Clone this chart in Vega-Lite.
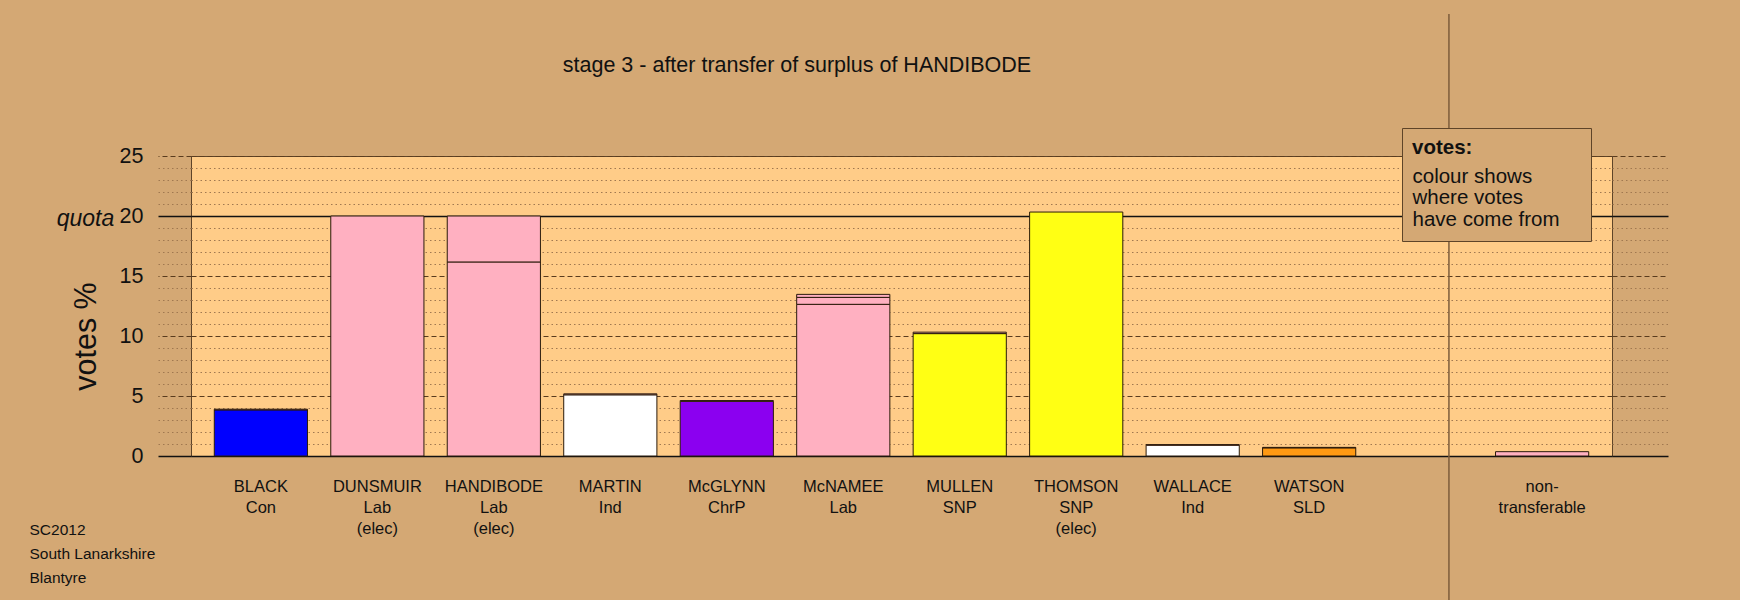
{
  "$schema": "https://vega.github.io/schema/vega-lite/v6.json",
  "width": 1421,
  "height": 300,
  "autosize": {"type": "none"},
  "padding": {"left": 191, "top": 156, "right": 128, "bottom": 144},
  "background": "#D4A874",
  "view": {"fill": "#FFCC88", "stroke": "#5e4428", "strokeWidth": 1},
  "config": {"font": "Liberation Sans"},
  "resolve": {"axis": {"x": "independent", "y": "independent"}},
  "layer": [
    {
      "data": {"values": [
        {"cand": "BLACK|Con", "source": "Con", "lo": 0, "hi": 3.84},
        {"cand": "BLACK|Con", "source": "Lab", "lo": 3.84, "hi": 3.9},
        {"cand": "DUNSMUIR|Lab|(elec)", "source": "Lab", "lo": 0, "hi": 20},
        {"cand": "HANDIBODE|Lab|(elec)", "source": "Lab", "lo": 0, "hi": 16.17},
        {"cand": "HANDIBODE|Lab|(elec)", "source": "Lab", "lo": 16.17, "hi": 20},
        {"cand": "MARTIN|Ind", "source": "Ind", "lo": 0, "hi": 5.1},
        {"cand": "MARTIN|Ind", "source": "Lab", "lo": 5.1, "hi": 5.18},
        {"cand": "McGLYNN|ChrP", "source": "ChrP", "lo": 0, "hi": 4.55},
        {"cand": "McGLYNN|ChrP", "source": "Lab", "lo": 4.55, "hi": 4.62},
        {"cand": "McNAMEE|Lab", "source": "Lab", "lo": 0, "hi": 12.64},
        {"cand": "McNAMEE|Lab", "source": "Lab", "lo": 12.64, "hi": 13.22},
        {"cand": "McNAMEE|Lab", "source": "Lab", "lo": 13.22, "hi": 13.47},
        {"cand": "MULLEN|SNP", "source": "SNP", "lo": 0, "hi": 10.2},
        {"cand": "MULLEN|SNP", "source": "Lab", "lo": 10.2, "hi": 10.32},
        {"cand": "THOMSON|SNP|(elec)", "source": "SNP", "lo": 0, "hi": 20.33},
        {"cand": "WALLACE|Ind", "source": "Ind", "lo": 0, "hi": 0.9},
        {"cand": "WALLACE|Ind", "source": "Lab", "lo": 0.9, "hi": 0.95},
        {"cand": "WATSON|SLD", "source": "SLD", "lo": 0, "hi": 0.68},
        {"cand": "WATSON|SLD", "source": "Lab", "lo": 0.68, "hi": 0.72},
        {"cand": "non-|transferable", "source": "Lab", "lo": 0, "hi": 0.36}
      ]},
      "mark": {"type": "bar", "stroke": "#2a1a0a", "strokeWidth": 1},
      "encoding": {
        "x": {
          "field": "cand", "type": "nominal", "sort": null,
          "scale": {"domain": ["BLACK|Con", "DUNSMUIR|Lab|(elec)", "HANDIBODE|Lab|(elec)", "MARTIN|Ind", "McGLYNN|ChrP", "McNAMEE|Lab", "MULLEN|SNP", "THOMSON|SNP|(elec)", "WALLACE|Ind", "WATSON|SLD", " ", "non-|transferable"], "paddingInner": 0.2, "paddingOuter": 0.2},
          "axis": {
            "orient": "bottom", "ticks": false, "domain": false, "grid": false,
            "labelPadding": 22, "labelAngle": 0,
            "labelExpr": "split(datum.label, '|')",
            "labelFontSize": 16.5, "labelLineHeight": 21, "labelColor": "#111111", "labelBaseline": "top",
            "title": ["SC2012", "South Lanarkshire", "Blantyre"],
            "titleX": -162, "titleY": 66.5, "titleAlign": "left", "titleBaseline": "top",
            "titleFontSize": 15.5, "titleLineHeight": 24, "titleFontWeight": "normal", "titleColor": "#111111"
          }
        },
        "y": {
          "field": "lo", "type": "quantitative",
          "scale": {"domain": [0, 25], "nice": false},
          "axis": {
            "orient": "left",
            "values": [0,1,2,3,4,5,6,7,8,9,10,11,12,13,14,15,16,17,18,19,20,21,22,23,24,25],
            "domain": false, "grid": true, "ticks": true, "tickSize": 33, "labelPadding": 15,
            "labelExpr": "datum.value % 5 === 0 ? datum.label : ''",
            "labelFontSize": 21.5, "labelColor": "#111111",
            "gridColor": {"condition": [{"test": "datum.value === 0 || datum.value === 20", "value": "#111111"}, {"test": "datum.value % 5 === 0", "value": "#5a3c1e"}], "value": "#a07850"},
            "gridDash": {"condition": [{"test": "datum.value === 0 || datum.value === 20", "value": []}, {"test": "datum.value % 5 === 0", "value": [5, 3]}], "value": [1.5, 3]},
            "gridWidth": {"condition": {"test": "datum.value === 0 || datum.value === 20", "value": 1.6}, "value": 1},
            "gridOpacity": 1,
            "tickColor": {"condition": [{"test": "datum.value === 0 || datum.value === 20", "value": "#111111"}, {"test": "datum.value % 5 === 0", "value": "#5a3c1e"}], "value": "#a07850"},
            "tickDash": {"condition": [{"test": "datum.value === 0 || datum.value === 20", "value": []}, {"test": "datum.value % 5 === 0", "value": [5, 3]}], "value": [1.5, 3]},
            "tickWidth": {"condition": {"test": "datum.value === 0 || datum.value === 20", "value": 1.6}, "value": 1},
            "title": "votes %", "titleFontSize": 30.5, "titleFontWeight": "normal", "titleColor": "#111111",
            "titleAngle": -90, "titleX": -105, "titleY": 180, "titleAlign": "center", "titleBaseline": "middle"
          }
        },
        "y2": {"field": "hi"},
        "color": {
          "field": "source", "type": "nominal",
          "scale": {"domain": ["Con", "Lab", "Ind", "ChrP", "SNP", "SLD"], "range": ["#0000FF", "#FFB0C1", "#FFFFFF", "#8B00F0", "#FFFF14", "#FF9912"]},
          "legend": {
            "title": "votes:", "values": ["Con", "Lab", "Ind"],
            "labelExpr": "datum.value === 'Con' ? 'colour shows' : datum.value === 'Lab' ? 'where votes' : 'have come from\u00a0\u2800'",
            "orient": "none", "legendX": 1211, "legendY": -28, "padding": 10,
            "strokeColor": "#5e4428", "fillColor": "#D4A874",
            "symbolSize": 1, "symbolOpacity": 0, "symbolStrokeWidth": 0, "labelOffset": -20,
            "labelFontSize": 20.5, "labelColor": "#111111", "labelLimit": 400, "labelBaseline": "middle",
            "titleFontSize": 20.5, "titleFontWeight": "bold", "titleColor": "#111111", "titlePadding": 8, "rowPadding": 0.5
          }
        }
      }
    },
    {
      "data": {"values": [{"item": "divider"}]},
      "mark": {"type": "rule", "color": "#7d5d3b", "strokeWidth": 1.5},
      "encoding": {
        "x": {
          "datum": " ", "type": "nominal", "bandPosition": 0.75,
          "scale": {"domain": ["BLACK|Con", "DUNSMUIR|Lab|(elec)", "HANDIBODE|Lab|(elec)", "MARTIN|Ind", "McGLYNN|ChrP", "McNAMEE|Lab", "MULLEN|SNP", "THOMSON|SNP|(elec)", "WALLACE|Ind", "WATSON|SLD", " ", "non-|transferable"], "paddingInner": 0.2, "paddingOuter": 0.2},
          "axis": {
            "orient": "top", "labels": false, "ticks": false, "domain": false, "grid": false,
            "title": "stage 3 - after transfer of surplus of HANDIBODE",
            "titleX": 605.5, "titleY": -91, "titleAlign": "center", "titleBaseline": "middle",
            "titleFontSize": 21.5, "titleFontWeight": "normal", "titleColor": "#111111"
          }
        },
        "y": {
          "datum": 36.83, "type": "quantitative",
          "scale": {"domain": [0, 25], "nice": false},
          "axis": {
            "orient": "right",
            "values": [0,1,2,3,4,5,6,7,8,9,10,11,12,13,14,15,16,17,18,19,20,21,22,23,24,25],
            "labels": false, "domain": false, "grid": false, "ticks": true, "tickSize": 56,
            "tickColor": {"condition": [{"test": "datum.value === 0 || datum.value === 20", "value": "#111111"}, {"test": "datum.value % 5 === 0", "value": "#5a3c1e"}], "value": "#a07850"},
            "tickDash": {"condition": [{"test": "datum.value === 0 || datum.value === 20", "value": []}, {"test": "datum.value % 5 === 0", "value": [5, 3]}], "value": [1.5, 3]},
            "tickWidth": {"condition": {"test": "datum.value === 0 || datum.value === 20", "value": 1.6}, "value": 1},
            "title": "quota", "titleFontStyle": "italic", "titleFontWeight": "normal", "titleFontSize": 23,
            "titleColor": "#111111", "titleAngle": 0, "titleX": -1527, "titleY": 62,
            "titleAlign": "center", "titleBaseline": "middle"
          }
        },
        "y2": {"datum": -12}
      }
    }
  ]
}
